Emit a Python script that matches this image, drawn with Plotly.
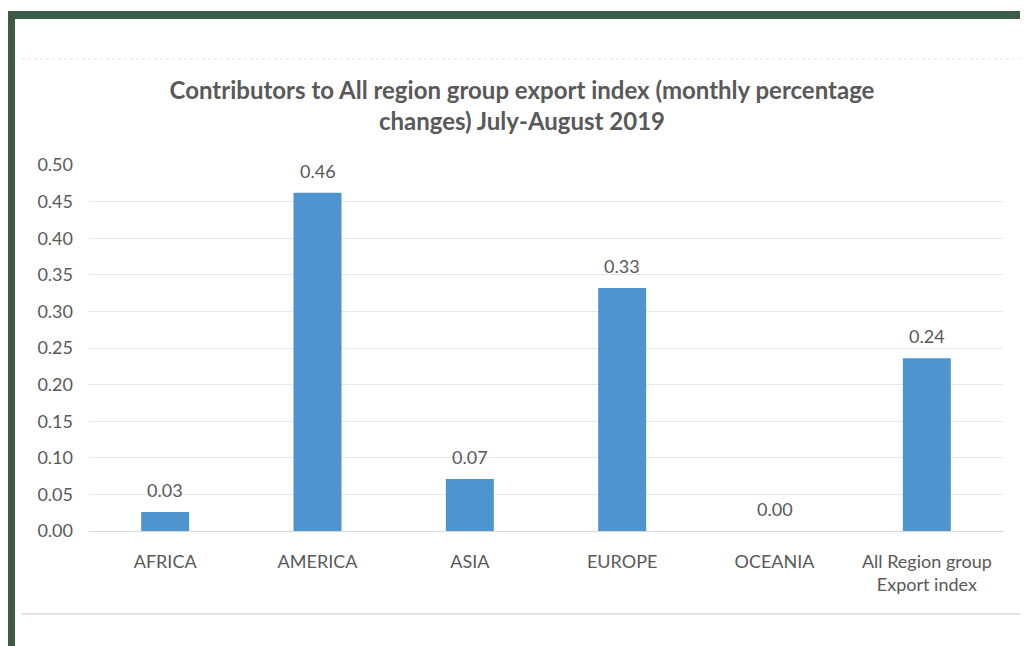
import plotly.graph_objects as go

categories = ["AFRICA", "AMERICA", "ASIA", "EUROPE", "OCEANIA", "All Region group<br>Export index"]
values = [0.026, 0.462, 0.071, 0.332, 0.0, 0.236]
y_ticks = [0.0, 0.05, 0.10, 0.15, 0.20, 0.25, 0.30, 0.35, 0.40, 0.45, 0.50]

# page body adds an 8px margin; work in screen pixels and convert
OFF = 8
W, H = 1028 - OFF, 646 - OFF
# plot area in screen pixels
SX0, SX1, SY0, SY1 = 89, 1003, 165, 531
L, R, T, B = SX0 - OFF, (1028 - SX1), SY0 - OFF, (646 - SY1)
pw, ph = SX1 - SX0, SY1 - SY0

def px(x):
    return (x - SX0) / pw

def py(y):
    return (SY1 - y) / ph

GRAY = "#595959"
FONT = "Lato, 'Open Sans', sans-serif"

fig = go.Figure(go.Bar(
    x=categories, y=values,
    marker=dict(color="#4f93cf", line=dict(width=0)),
    width=0.315,
    cliponaxis=False,
    hoverinfo="x+y",
))

annotations = [
    dict(x=c, y=v, xref="x", yref="y", text=f"{v:.2f}", showarrow=False,
         yanchor="bottom", yshift=9, font=dict(size=18, color=GRAY, family=FONT))
    for c, v in zip(categories, values)
]

shapes = [
    # dark green frame (top and left)
    dict(type="rect", xref="paper", yref="paper", x0=px(7), x1=px(1040), y0=py(19), y1=py(11),
         fillcolor="#3d5c47", line=dict(width=0), layer="above"),
    dict(type="rect", xref="paper", yref="paper", x0=px(7), x1=px(15), y0=py(660), y1=py(11),
         fillcolor="#3d5c47", line=dict(width=0), layer="above"),
    # chart area border lines
    dict(type="line", xref="paper", yref="paper", x0=px(22), x1=px(1040), y0=py(614), y1=py(614),
         line=dict(color="#d9d9d9", width=1.5)),
    dict(type="line", xref="paper", yref="paper", x0=px(22), x1=px(1040), y0=py(59), y1=py(59),
         line=dict(color="#f0f0f0", width=2, dash="dot")),
]

fig.update_layout(
    width=W, height=H,
    margin=dict(l=L, r=R, t=T, b=B),
    paper_bgcolor="white", plot_bgcolor="white",
    font=dict(family=FONT, color=GRAY, size=18),
    title=dict(
        text="<b>Contributors to All region group export index (monthly percentage<br>changes) July-August 2019</b>",
        x=(522 - OFF) / W, xanchor="center", y=1 - (99 - OFF) / H, yanchor="middle",
        font=dict(size=24, color=GRAY, family=FONT),
    ),
    showlegend=False,
    shapes=shapes,
    annotations=annotations,
    bargap=0.68,
)
fig.update_yaxes(
    range=[0, 0.5], tickvals=y_ticks, tickformat=".2f",
    showgrid=True, gridcolor="#e8e8e8", gridwidth=1,
    zeroline=False, showline=False, ticks="",
    tickfont=dict(size=18, color=GRAY), ticklabelstandoff=15,
)
fig.update_xaxes(
    showline=True, linecolor="#d9d9d9", linewidth=1,
    ticks="", tickfont=dict(size=18, color=GRAY), ticklabelstandoff=14,
)

fig.write_html("out.html")
